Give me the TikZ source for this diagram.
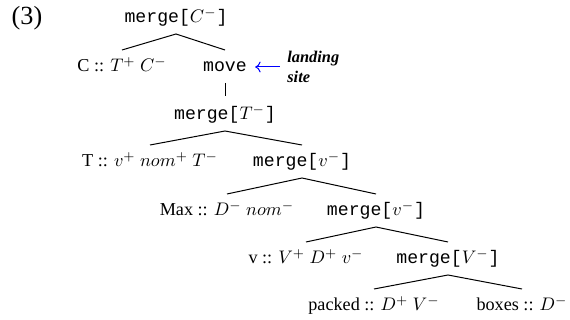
\documentclass[tikz,border=0pt]{standalone}
\usepackage{fontspec}
\setmainfont{Liberation Serif}
\setmonofont{Liberation Mono}
\usetikzlibrary{arrows.meta,calc}
\newcommand{\mrg}[1]{\texttt{merge[}$#1$\texttt{]}}
\tikzset{
  lab/.style={anchor=base, inner sep=0pt, font=\normalsize},
  branch/.style={line width=0.55pt},
}
\begin{document}
\begin{tikzpicture}[x=0.55pt,y=-0.55pt]
\useasboundingbox (0,0) rectangle (570,320);
\node[lab, font=\Large] (num) at (27,25) {(3)};
\node[lab] (r0) at (176,23) {\mrg{C^-}};
\node[lab] (c1) at (122,72) {C :: $T^+$ $C^-$};
\node[lab] (mv) at (225,72) {\texttt{move}};
\node[lab] (m2) at (225,120) {\mrg{T^-}};
\node[lab] (t3) at (150,167) {T :: $v^+$ $nom^+$ $T^-$};
\node[lab] (m3) at (302,167) {\mrg{v^-}};
\node[lab] (x4) at (227,216) {Max :: $D^-$ $nom^-$};
\node[lab] (m4) at (376,216) {\mrg{v^-}};
\node[lab] (v5) at (306,264) {v :: $V^+$ $D^+$ $v^-$};
\node[lab] (m5) at (448,264) {\mrg{V^-}};
\node[lab] (p6) at (374,311) {packed :: $D^+$ $V^-$};
\node[lab] (b6) at (522,311) {boxes :: $D^-$};
\node[anchor=north west, inner sep=0pt, font=\small\bfseries\itshape, align=left] (ls) at (287,51) {landing\\site};
% branches
\foreach \p/\a/\b in {r0/c1/mv, m2/t3/m3, m3/x4/m4, m4/v5/m5, m5/p6/b6}{
  \draw[branch] ($(\a.base)+(0,-22)$) -- ($(\p.base)+(0,11)$) -- ($(\b.base)+(0,-22)$);
}
\draw[branch] ($(mv.base)+(0,11)$) -- ($(m2.base)+(0,-24)$);
\draw[blue, line width=0.55pt, {To[length=3pt,width=6pt]}-] ($(mv.base east)+(8,-5)$) -- ($(ls.north west)+(-7,16)$);
\end{tikzpicture}
\end{document}
